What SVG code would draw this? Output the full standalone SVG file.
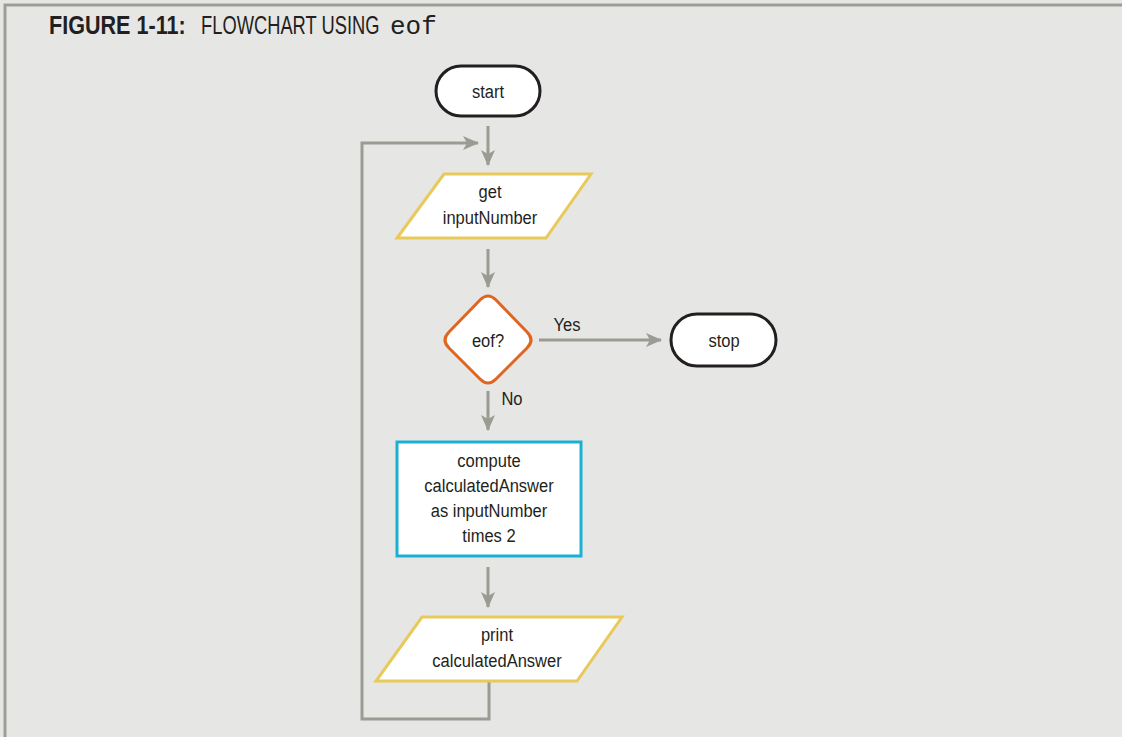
<svg xmlns="http://www.w3.org/2000/svg" width="1122" height="737" viewBox="0 0 1122 737">
<defs>
<style>
.t{font-family:"Liberation Sans",Arial,sans-serif;font-size:19px;fill:#231f20;text-anchor:middle}
.h{font-family:"Liberation Sans",Arial,sans-serif;font-size:26px;fill:#231f20}
.c{fill:none;stroke:#9b9b93;stroke-width:3}
.term{fill:#fff;stroke:#231f20;stroke-width:3}
.io{fill:#fff;stroke:#e8c95a;stroke-width:3;stroke-linejoin:miter}
</style>
<marker id="ah" viewBox="0 0 16 14" refX="15" refY="7" markerWidth="16" markerHeight="14" markerUnits="userSpaceOnUse" orient="auto">
<path d="M0,0 L16,7 L0,14 L4,7 Z" fill="#9b9b93"/>
</marker>
</defs>
<rect x="0" y="0" width="1122" height="737" fill="#e6e6e4"/>
<path d="M5,737 V5 H1122" fill="none" stroke="#9d9d98" stroke-width="3"/>
<g id="title">
<text class="h" transform="translate(49,34) scale(0.83,1)" font-weight="bold">FIGURE 1-11:</text>
<text class="h" transform="translate(201,34) scale(0.705,1)">FLOWCHART USING</text>
<text transform="translate(390,34) scale(1.04,1)" font-family="'Liberation Mono','Courier New',monospace" font-size="25" fill="#231f20">eof</text>
</g>
<g id="connectors">
<path class="c" d="M488,126 V165" marker-end="url(#ah)"/>
<path class="c" d="M488,249 V287" marker-end="url(#ah)"/>
<path class="c" d="M539,340 H661" marker-end="url(#ah)"/>
<path class="c" d="M488,391 V430" marker-end="url(#ah)"/>
<path class="c" d="M488,567 V607" marker-end="url(#ah)"/>
<path class="c" d="M489,682 V719 H362 V143 H478" marker-end="url(#ah)"/>
<text class="t" transform="translate(567,331) scale(0.87,1)">Yes</text>
<text class="t" transform="translate(512,405) scale(0.87,1)">No</text>
</g>
<g id="start">
<rect class="term" x="436" y="66" width="104" height="50" rx="25"/>
<text class="t" transform="translate(488,98) scale(0.87,1)">start</text>
</g>
<g id="get">
<polygon class="io" points="444,174 591,174 546,238 397,238"/>
<text class="t" transform="translate(490,198) scale(0.87,1)">get</text>
<text class="t" transform="translate(490,224) scale(0.87,1)">inputNumber</text>
</g>
<g id="eof">
<path d="M480,300 Q488,292 496,300 L527,332 Q535,340 527,348 L496,379 Q488,387 480,379 L449,348 Q441,340 449,332 Z" fill="#fff" stroke="#e0661f" stroke-width="3"/>
<text class="t" transform="translate(488,347) scale(0.87,1)">eof?</text>
</g>
<g id="stop">
<rect class="term" x="671" y="314" width="105" height="52" rx="26"/>
<text class="t" transform="translate(724,347) scale(0.87,1)">stop</text>
</g>
<g id="compute">
<rect x="397" y="442" width="184" height="114" fill="#fff" stroke="#1ab0d3" stroke-width="3"/>
<text class="t" transform="translate(489,467) scale(0.87,1)">compute</text>
<text class="t" transform="translate(489,492) scale(0.87,1)">calculatedAnswer</text>
<text class="t" transform="translate(489,517) scale(0.87,1)">as inputNumber</text>
<text class="t" transform="translate(489,542) scale(0.87,1)">times 2</text>
</g>
<g id="print">
<polygon class="io" points="422,617 622,617 577,681 376,681"/>
<text class="t" transform="translate(497,641) scale(0.87,1)">print</text>
<text class="t" transform="translate(497,667) scale(0.87,1)">calculatedAnswer</text>
</g>
</svg>
